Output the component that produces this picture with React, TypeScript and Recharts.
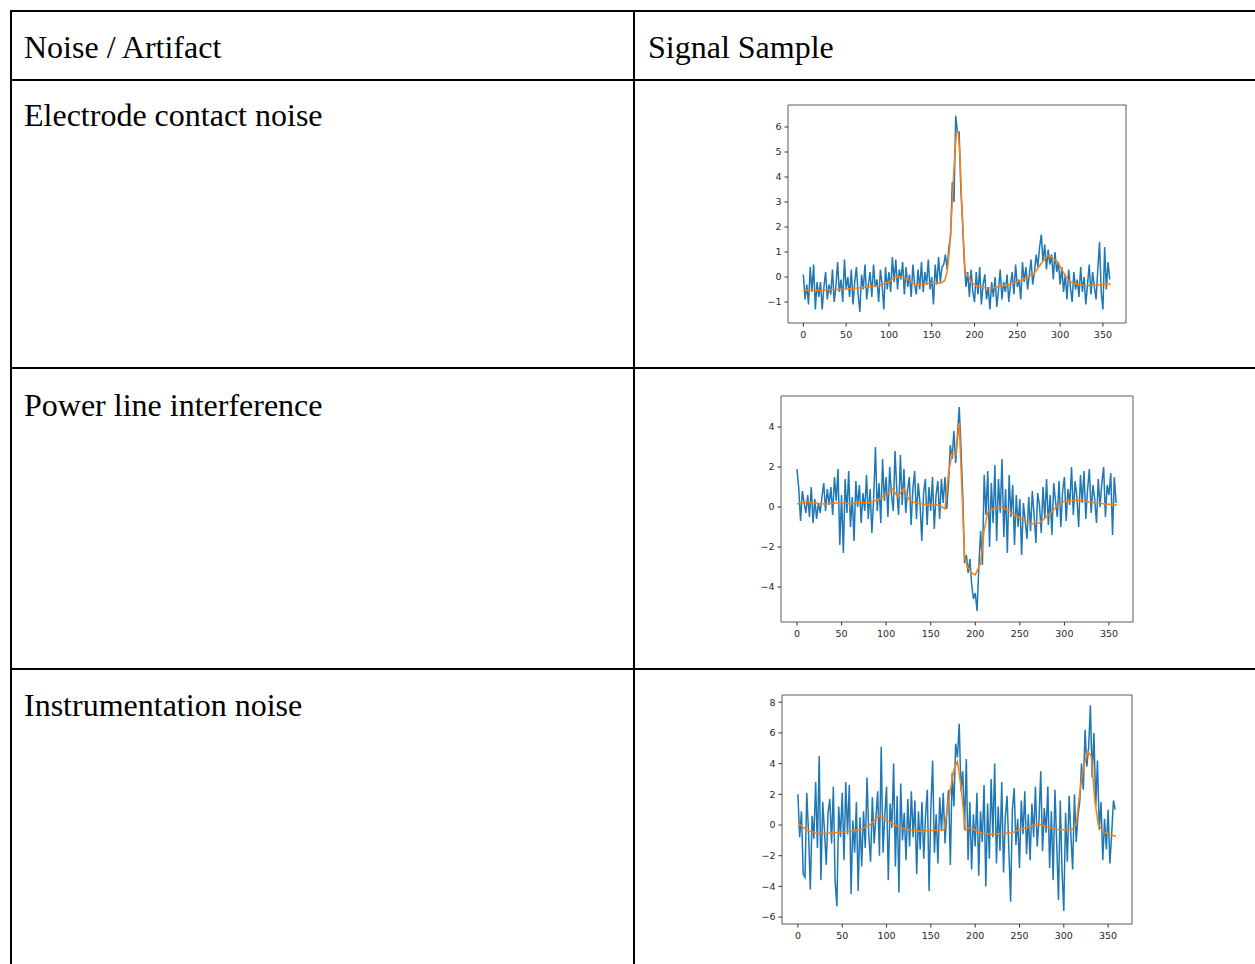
import React from "react";
import { LineChart, Line, XAxis, YAxis, ReferenceArea } from "recharts";

// row labels of the table
const headers = ["Noise / Artifact", "Signal Sample"];
const rowLabels = ["Electrode contact noise", "Power line interference", "Instrumentation noise"];

// shared x ticks (sample index)
const xTicks = [0, 50, 100, 150, 200, 250, 300, 350];

// raw signals, every 2nd sample
const electrodeRaw = [
  0.1, -0.9, -0.3, -1.1, 0.4, -0.6, 0.5, -1.3, -0.2, -0.8,
  -0.2, -1.3, -0.4, 0.2, -0.9, -0.3, -0.7, 0.3, -1.0, -0.4,
  0.6, -0.6, -0.1, -1.0, 0.7, -0.5, 0.0, -0.8, 0.3, -1.1,
  -0.2, 0.4, -0.7, -1.4, 0.1, -0.5, 0.5, -0.9, -0.3, 0.2,
  -0.8, 0.5, -0.4, -0.1, -1.0, 0.3, -0.3, -1.3, 0.4, -0.5,
  0.2, -0.6, 0.8, -0.2, 0.7, -0.5, 0.3, -0.1, 0.6, -0.7,
  0.4, -0.4, 0.1, -0.8, 0.5, -0.3, -0.7, 0.3, -0.5, 0.6,
  -0.6, 0.2, -0.3, 0.7, -0.5, 0.0, -1.1, 0.5, -0.3, 0.8,
  -0.2, 0.4, 0.5, 0.9, 0.3, 1.2, 1.6, 3.8, 3.0, 6.45,
  5.8, 5.8, 3.5, 2.2, 0.6, -0.4, 0.2, -0.8, 0.3, -0.6,
  -1.0, 0.2, -0.7, 0.4, -1.1, -0.3, 0.1, -0.9, -0.4, -1.3,
  -0.2, -0.8, 0.0, -1.2, -0.5, 0.3, -0.9, -0.2, -0.6, 0.1,
  -1.0, -0.3, 0.2, -0.7, 0.5, -0.4, -0.1, -0.9, 0.6, -0.2,
  0.4, -0.5, 0.1, 0.7, -0.3, 0.2, 0.9, 0.4, 1.2, 1.7,
  0.6, 1.3, 0.3, 1.1, 0.5, 0.9, -0.1, 1.0, 0.2, 0.6,
  -0.3, 0.4, -0.6, 0.1, -0.9, 0.3, -0.4, -1.0, 0.2, -0.5,
  -0.1, -0.8, 0.4, -0.6, 0.0, -1.1, -0.3, 0.5, -0.7, 0.2,
  -0.4, -0.9, 0.3, 1.4, -0.6, -1.3, 1.2, -0.5, 0.6, -0.1,
];
const electrodeCleanX = [0, 10, 20, 30, 40, 50, 60, 70, 80, 90, 100, 105, 110, 115, 120, 125, 130, 140, 150, 160, 165, 168, 171, 174, 177, 179, 181, 183, 185, 187, 189, 192, 196, 200, 205, 210, 220, 230, 240, 250, 260, 270, 278, 285, 290, 297, 302, 307, 312, 320, 330, 340, 350, 359];
const electrodeCleanY = [-0.55, -0.5, -0.55, -0.5, -0.5, -0.48, -0.45, -0.42, -0.38, -0.32, -0.2, -0.05, 0.02, 0.0, -0.05, -0.15, -0.3, -0.3, -0.25, -0.25, -0.15, 0.2, 1.2, 3.0, 5.0, 5.8, 5.8, 4.8, 3.0, 1.5, 0.2, 0.1, -0.2, -0.3, -0.38, -0.42, -0.44, -0.38, -0.3, -0.2, -0.05, 0.15, 0.55, 0.85, 0.8, 0.6, 0.3, 0.0, -0.2, -0.3, -0.35, -0.32, -0.3, -0.28];

const powerRaw = [
  1.9, 0.9, -0.7, 0.8, 0.2, -0.3, 0.6, -0.5, 1.0, -0.8,
  0.4, -0.6, 0.2, -0.3, 0.5, 1.2, -0.2, 0.9, 0.1, 1.0,
  -0.4, 1.5, 0.3, 1.9, -1.9, 0.6, -2.3, 1.4, -0.3, 1.8,
  -1.0, 0.5, -1.7, 1.3, 0.0, 1.1, -0.8, 0.7, -0.2, 1.6,
  -0.6, 0.9, -1.3, 0.4, 3.0, -0.2, 1.2, -0.8, 2.4, 0.3,
  1.5, -0.5, 2.0, 0.6, -0.2, 2.8, 0.8, -0.4, 2.6, 0.1,
  1.9, -0.3, 0.8, 1.5, -0.9, 0.9, 1.8, -0.6, 1.2, 0.2,
  -1.7, 0.7, 1.4, -0.9, 1.0, -0.2, 1.5, -1.1, 0.6, 1.3,
  -0.6, 1.4, 0.2, 1.5, -0.1, 1.2, 3.1, 2.4, 3.8, 2.2,
  3.6, 5.0, 2.9, 0.5, -2.8, -2.4, -3.3, -2.6, -3.9, -4.6,
  -4.3, -5.2, -3.0, -1.2, -2.9, 1.6, -0.4, 1.8, -2.0, 1.2,
  -0.8, 2.1, -1.7, 1.4, -0.3, 2.4, -1.5, 0.9, -2.3, 1.6,
  -0.5, 1.1, -1.9, 0.6, -1.0, 0.4, -2.4, 0.2, -0.7, -1.6,
  0.5, -1.2, 0.8, -0.4, -1.8, 0.7, 0.1, -1.3, 1.0, -0.6,
  1.4, -0.9, 0.6, -1.4, 1.2, 0.3, -0.5, 1.3, -1.0, 0.8,
  1.5, -0.7, 0.9, 0.1, 2.0, -0.4, 1.3, 0.5, -1.0, 1.6,
  0.2, 1.8, -0.6, 0.9, 1.9, -0.3, 1.1, 0.4, -0.8, 1.4,
  0.0, 1.2, 2.0, -0.5, 1.1, 0.6, 1.7, -1.4, 1.5, 0.2,
];
const powerCleanX = [0, 10, 20, 30, 40, 50, 60, 70, 80, 90, 100, 107, 113, 120, 125, 130, 140, 150, 160, 166, 170, 174, 178, 182, 185, 188, 191, 196, 200, 206, 210, 214, 221, 230, 241, 250, 263, 272, 282, 291, 300, 315, 334, 359];
const powerCleanY = [0.15, 0.25, 0.2, 0.15, 0.2, 0.2, 0.15, 0.25, 0.2, 0.35, 0.6, 0.9, 0.5, 0.95, 0.4, 0.25, 0.15, 0.1, 0.1, -0.1, 1.7, 2.7, 2.6, 4.2, 0.85, -2.5, -3.0, -3.3, -3.4, -2.8, -1.15, -0.25, -0.07, 0.0, -0.3, -0.55, -0.85, -0.8, -0.4, 0.0, 0.3, 0.35, 0.2, 0.1];

const instrumentRaw = [
  2.0, -0.8, 0.9, -3.2, -3.4, 2.1, -0.5, -4.2, 0.6, -0.9,
  2.8, -1.5, 4.5, -3.6, 1.5, -0.4, -2.6, 0.8, 1.7, -1.2,
  2.5, -3.7, -5.3, 1.2, -0.8, 2.1, -2.3, 2.8, -0.6, 2.6,
  -4.5, 0.3, -1.8, 1.5, -4.3, 0.5, -2.7, 0.9, -1.5, 3.1,
  -0.7, -2.4, 1.8, -1.2, 0.5, 2.2, -2.0, 5.1, -1.8, 0.6,
  2.5, -3.6, 1.4, -0.2, 4.0, -2.7, 1.9, -4.4, 2.7, -1.0,
  0.8, -2.3, 1.7, -1.4, 2.2, -0.8, 1.6, -3.2, 0.9, -1.6,
  1.5, -2.2, 0.6, 2.3, -4.3, 1.0, 4.2, -1.8, 0.7, -2.5,
  1.8, -0.4, 2.1, -1.2, 0.8, 2.3, -2.6, 3.4, 1.2, 5.3,
  4.4, 6.6, 2.2, 3.5, -0.3, 4.3, -2.3, 1.5, -2.9, 0.7,
  -1.4, 2.1, -3.3, 0.9, -1.1, 2.6, -4.0, 1.4, -2.2, 3.0,
  -0.8, 4.0, -2.5, 1.2, -1.7, 2.8, -3.1, 0.5, 1.9, -1.6,
  -5.0, 1.0, 2.4, -1.3, 0.4, -2.8, 1.6, -0.6, 2.2, -1.9,
  0.7, -2.3, 1.4, -0.8, 2.5, -1.4, 0.3, 3.5, -1.7, 1.1,
  -0.5, 2.5, -2.8, 0.9, -3.6, 2.3, -1.2, -4.9, 1.6, -3.0,
  -5.6, 0.8, -2.4, 1.9, -0.7, -2.9, 2.0, -1.1, 0.6, 1.5,
  4.0, 2.3, 6.2, 3.8, 5.0, 7.8, 3.1, 6.0, 1.2, 4.2,
  -0.3, 1.5, -2.3, 0.4, -1.6, 1.0, -2.5, -0.6, 1.6, 1.0,
];
const instrumentCleanX = [0, 5, 10, 20, 30, 40, 50, 60, 70, 80, 88, 92, 100, 110, 120, 130, 140, 150, 160, 165, 172, 176, 180, 184, 189, 195, 204, 219, 241, 256, 271, 282, 293, 308, 314, 317, 321, 327, 331, 335, 339, 346, 359];
const instrumentCleanY = [0.1, -0.1, -0.35, -0.5, -0.55, -0.5, -0.45, -0.4, -0.3, -0.05, 0.4, 0.65, 0.3, 0.0, -0.25, -0.35, -0.4, -0.35, -0.35, -0.3, 2.3, 3.6, 4.15, 2.5, -0.33, -0.15, -0.5, -0.6, -0.5, -0.2, 0.07, -0.15, -0.3, -0.33, 0.0, 1.6, 3.4, 4.8, 4.5, 1.6, 0.0, -0.5, -0.75];

const X_DOMAIN: [number, number] = [-17.95, 376.95];

const toPoints = (ys: number[], xs?: number[]) =>
  ys.map((y, i) => ({ x: xs ? xs[i] : i * 2, y }));

const fmt = (v: number) => String(v).replace("-", "\u2212");

interface SignalChartProps {
  raw: number[];
  cleanX: number[];
  cleanY: number[];
  yTicks: number[];
  yDomain: [number, number];
  box: { left: number; top: number; width: number; height: number };
}

const SignalChart: React.FC<SignalChartProps> = ({ raw, cleanX, cleanY, yTicks, yDomain, box }) => {
  const mLeft = 48;
  const mTop = 10;
  const mRight = 14;
  const xAxisH = 26;
  const tickStyle = { fontSize: 9.5, fill: "#262626", fontFamily: "DejaVu Sans" };
  return (
    <div style={{ position: "absolute", left: box.left - mLeft, top: box.top - mTop }}>
      <LineChart
        width={box.width + mLeft + mRight}
        height={box.height + mTop + xAxisH}
        margin={{ top: mTop, right: mRight, bottom: 0, left: 0 }}
      >
        <XAxis
          type="number"
          dataKey="x"
          domain={X_DOMAIN}
          ticks={xTicks}
          allowDataOverflow
          axisLine={false}
          tickLine={{ stroke: "#333" }}
          tickSize={3.5}
          tickMargin={5}
          height={xAxisH}
          tick={tickStyle}
          interval={0}
        />
        <YAxis
          type="number"
          domain={yDomain}
          ticks={yTicks}
          allowDataOverflow
          axisLine={false}
          tickLine={{ stroke: "#333" }}
          tickSize={3.5}
          tickMargin={3}
          width={mLeft}
          tick={tickStyle}
          tickFormatter={fmt}
          interval={0}
        />
        <Line
          data={toPoints(raw)}
          dataKey="y"
          stroke="#1f77b4"
          strokeWidth={1.5}
          dot={false}
          isAnimationActive={false}
        />
        <Line
          data={toPoints(cleanY, cleanX)}
          dataKey="y"
          stroke="#ff7f0e"
          strokeWidth={1.5}
          dot={false}
          isAnimationActive={false}
        />
        <ReferenceArea
          x1={X_DOMAIN[0]}
          x2={X_DOMAIN[1]}
          y1={yDomain[0]}
          y2={yDomain[1]}
          fill="none"
          stroke="#333"
          strokeWidth={0.8}
        />
      </LineChart>
    </div>
  );
};

const line = (left: number, top: number, width: number, height: number) => (
  <div style={{ position: "absolute", left, top, width, height, background: "#000" }} />
);

const labelStyle: React.CSSProperties = {
  position: "absolute",
  fontFamily: "'Liberation Serif', 'Times New Roman', serif",
  fontSize: 32,
  lineHeight: "32px",
  color: "#000",
  whiteSpace: "nowrap",
};

export default function App() {
  return (
    <div style={{ position: "absolute", left: 0, top: 0, width: 1255, height: 964, overflow: "hidden", background: "#fff" }}>
      {line(10, 10, 1245, 2)}
      {line(10, 10, 2, 954)}
      {line(633, 10, 2, 954)}
      {line(10, 79, 1245, 2)}
      {line(10, 367, 1245, 2)}
      {line(10, 668, 1245, 2)}

      <div style={{ ...labelStyle, left: 24, top: 31 }}>{headers[0]}</div>
      <div style={{ ...labelStyle, left: 648, top: 31 }}>{headers[1]}</div>
      <div style={{ ...labelStyle, left: 24, top: 99 }}>{rowLabels[0]}</div>
      <div style={{ ...labelStyle, left: 24, top: 389 }}>{rowLabels[1]}</div>
      <div style={{ ...labelStyle, left: 24, top: 689 }}>{rowLabels[2]}</div>

      <SignalChart
        raw={electrodeRaw}
        cleanX={electrodeCleanX}
        cleanY={electrodeCleanY}
        yTicks={[-1, 0, 1, 2, 3, 4, 5, 6]}
        yDomain={[-1.84, 6.88]}
        box={{ left: 788, top: 105, width: 338, height: 218 }}
      />
      <SignalChart
        raw={powerRaw}
        cleanX={powerCleanX}
        cleanY={powerCleanY}
        yTicks={[-4, -2, 0, 2, 4]}
        yDomain={[-5.75, 5.55]}
        box={{ left: 781, top: 396, width: 352, height: 226 }}
      />
      <SignalChart
        raw={instrumentRaw}
        cleanX={instrumentCleanX}
        cleanY={instrumentCleanY}
        yTicks={[-6, -4, -2, 0, 2, 4, 6, 8]}
        yDomain={[-6.45, 8.47]}
        box={{ left: 782, top: 695, width: 350, height: 229 }}
      />
    </div>
  );
}
